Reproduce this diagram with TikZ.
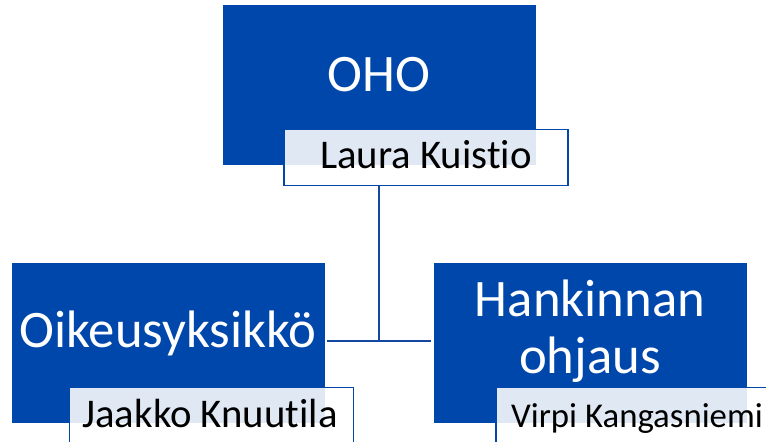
\documentclass[tikz,border=0pt]{standalone}
\usepackage{fontspec}
\setmainfont{Carlito}[Ligatures=NoCommon]
\usetikzlibrary{calc}
\definecolor{oho_blue}{RGB}{0, 71, 171}
\definecolor{oho_line}{RGB}{20, 72, 160}
\tikzstyle{unit}=[rectangle,fill=oho_blue,draw=oho_blue,
  minimum width=6.24cm,minimum height=3.18cm,inner sep=0pt]
\tikzstyle{head}=[rectangle,fill=white,fill opacity=0.88,draw=oho_blue,
  line width=1.1pt,minimum width=5.68cm,minimum height=1.12cm,inner sep=0pt]
\tikzstyle{unittext}=[text=white,align=center,anchor=base,inner sep=0pt,
  font=\fontsize{30}{32}\selectfont]
\tikzstyle{headtext}=[text=black,anchor=base,inner sep=0pt,
  font=\fontsize{23.2}{24}\selectfont]
\tikzstyle{none}=[]

\begin{document}
\begin{tikzpicture}[x=0.02cm,y=-0.02cm]
        \clip (0, 0) rectangle (766, 441);
        \node [style=unit] (0) at (379, 85) {};
        \node [style=head] (1) at (426, 157.5) {};
        \node [style=unit] (2) at (168, 342.5) {};
        \node [style=head] (3) at (211.5, 415.5) {};
        \node [style=unit] (4) at (590, 342.5) {};
        \node [style=head] (5) at (638, 415.5) {};
        \node [style=unittext] (6) at (379, 91) {OHO};
        \node [style=headtext] (7) at (426, 168) {Laura Kuistio};
        \node [style=unittext] (8) at (168, 347) {Oikeusyksikkö};
        \node [style=headtext] (9) at (210, 427) {Jaakko Knuutila};
        \node [style=unittext] (10) at (590, 373) {Hankinnan\\ohjaus};
        \node [style=headtext, font=\fontsize{19.8}{22}\selectfont] (11) at (637, 427) {Virpi Kangasniemi};
        \coordinate (12) at (379, 341);
        \draw [draw=oho_line, line width=1.1pt] (12 |- 1.south) to (12);
        \draw [draw=oho_line, line width=1.1pt, shorten <=1.7pt, shorten >=1.7pt] (2.east |- 12) to (4.west |- 12);
    \end{tikzpicture}
\end{document}
